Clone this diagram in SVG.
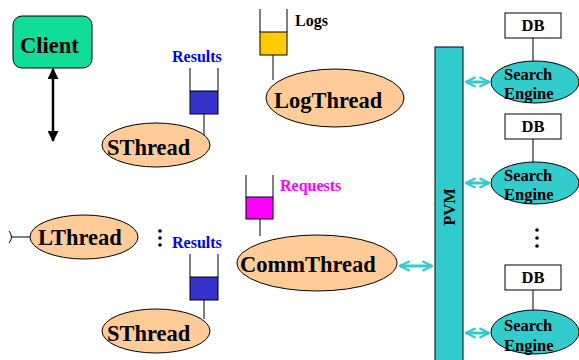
<svg xmlns="http://www.w3.org/2000/svg" width="579" height="360" viewBox="0 0 579 360">
  <style>
    .lbl { font-family: "Liberation Serif", "Times New Roman", serif; font-weight: bold; }
    .big { font-size: 22.5px; fill: #000; }
    .mid { font-size: 16.5px; fill: #000; }
    .small { font-size: 16px; }
    .thread { fill: #ffcc99; stroke: #000; stroke-width: 1; }
    .engine { fill: #33cccc; stroke: #000; stroke-width: 1; }
    .qline { stroke: #000; stroke-width: 1; fill: none; }
    .cyan { stroke: #33cccc; stroke-width: 3; fill: none; marker-start: url(#openStart); marker-end: url(#openEnd); }
  </style>
  <defs>
    <marker id="openEnd" viewBox="0 0 10 10" refX="9" refY="5" markerWidth="4" markerHeight="4" orient="auto" markerUnits="strokeWidth">
      <path d="M1,1 L9,5 L1,9" fill="none" stroke="#33cccc" stroke-width="2"/>
    </marker>
    <marker id="openStart" viewBox="0 0 10 10" refX="1" refY="5" markerWidth="4" markerHeight="4" orient="auto" markerUnits="strokeWidth">
      <path d="M9,1 L1,5 L9,9" fill="none" stroke="#33cccc" stroke-width="2"/>
    </marker>
    <marker id="solidEnd" viewBox="0 0 10 10" refX="9" refY="5" markerWidth="5.5" markerHeight="4.4" orient="auto" markerUnits="strokeWidth">
      <path d="M0,0 L10,5 L0,10 z" fill="#000"/>
    </marker>
    <marker id="solidStart" viewBox="0 0 10 10" refX="1" refY="5" markerWidth="5.5" markerHeight="4.4" orient="auto" markerUnits="strokeWidth">
      <path d="M10,0 L0,5 L10,10 z" fill="#000"/>
    </marker>
  </defs>

  <!-- connectors -->
  <g id="connectors">
    <line x1="53" y1="69" x2="53" y2="141" stroke="#000" stroke-width="2.5" marker-start="url(#solidStart)" marker-end="url(#solidEnd)"/>
    <line x1="204" y1="114" x2="204" y2="136" class="qline"/>
    <line x1="273" y1="55" x2="273" y2="80" class="qline"/>
    <line x1="260" y1="219" x2="260" y2="236" class="qline"/>
    <line x1="204" y1="300" x2="204" y2="319" class="qline"/>
    <line x1="30" y1="237" x2="12" y2="237" class="qline"/>
    <path d="M9,231 Q14,237 9,243" class="qline"/>
    <line x1="533" y1="38" x2="533" y2="62" class="qline"/>
    <line x1="533" y1="139" x2="533" y2="162" class="qline"/>
    <line x1="533" y1="290" x2="533" y2="310" class="qline"/>
    <line x1="466" y1="82" x2="489" y2="82" class="cyan"/>
    <line x1="466" y1="183" x2="489" y2="183" class="cyan"/>
    <line x1="466" y1="333" x2="489" y2="333" class="cyan"/>
    <line x1="400" y1="266" x2="432" y2="266" class="cyan"/>
  </g>

  <g id="client">
    <rect x="13" y="16" width="79" height="52" rx="9" ry="9" fill="#11dd99" stroke="#000"/>
    <text x="20" y="53" class="lbl big">Client</text>
  </g>

  <g id="results-queue-top">
    <text x="172" y="62" class="lbl small" fill="#0000ff">Results</text>
    <polyline points="190,68 190,91" class="qline"/>
    <polyline points="218,68 218,91" class="qline"/>
    <rect x="190" y="91" width="28" height="23" fill="#3333cc" stroke="#000"/>
  </g>

  <g id="sthread-top">
    <ellipse cx="156" cy="145" rx="54" ry="22" class="thread"/>
    <text x="107" y="155" class="lbl big">SThread</text>
  </g>

  <g id="logs-queue">
    <polyline points="260,9 260,32" class="qline"/>
    <polyline points="287,9 287,32" class="qline"/>
    <rect x="260" y="32" width="27" height="23" fill="#ffcc00" stroke="#000"/>
    <text x="295" y="26" class="lbl small" fill="#000">Logs</text>
  </g>

  <g id="logthread">
    <ellipse cx="335" cy="98" rx="69" ry="29" class="thread"/>
    <text x="274" y="108" class="lbl big">LogThread</text>
  </g>

  <g id="requests-queue">
    <polyline points="246,175 246,197" class="qline"/>
    <polyline points="273,175 273,197" class="qline"/>
    <rect x="246" y="197" width="27" height="22" fill="#ff00ff" stroke="#000"/>
    <text x="280" y="191" class="lbl small" fill="#ff00ff">Requests</text>
  </g>

  <g id="commthread">
    <ellipse cx="317" cy="263" rx="80" ry="28" class="thread"/>
    <text x="240" y="272" class="lbl big">CommThread</text>
  </g>

  <g id="lthread">
    <ellipse cx="84" cy="237" rx="54" ry="22" class="thread"/>
    <text x="38" y="245" class="lbl big">LThread</text>
  </g>

  <g id="dots-left" fill="#000">
    <circle cx="160" cy="231" r="1.8"/>
    <circle cx="160" cy="238" r="1.8"/>
    <circle cx="160" cy="245" r="1.8"/>
  </g>

  <g id="results-queue-bottom">
    <text x="172" y="248" class="lbl small" fill="#0000ff">Results</text>
    <polyline points="190,254 190,277" class="qline"/>
    <polyline points="218,254 218,277" class="qline"/>
    <rect x="190" y="277" width="28" height="23" fill="#3333cc" stroke="#000"/>
  </g>

  <g id="sthread-bottom">
    <ellipse cx="156" cy="331" rx="54" ry="22" class="thread"/>
    <text x="107" y="341" class="lbl big">SThread</text>
  </g>

  <g id="pvm">
    <rect x="435" y="47" width="28" height="320" fill="#33cccc" stroke="#000"/>
    <text transform="translate(455,207) rotate(-90)" text-anchor="middle" class="lbl mid">PVM</text>
  </g>

  <g id="db-1">
    <rect x="505" y="13" width="56" height="25" fill="#fff" stroke="#000"/>
    <text x="533" y="31" text-anchor="middle" class="lbl mid">DB</text>
  </g>
  <g id="engine-1">
    <ellipse cx="535" cy="82" rx="44" ry="21" class="engine"/>
    <text x="504" y="80" class="lbl mid">Search</text>
    <text x="504" y="99" class="lbl mid">Engine</text>
  </g>

  <g id="db-2">
    <rect x="505" y="114" width="56" height="25" fill="#fff" stroke="#000"/>
    <text x="533" y="132" text-anchor="middle" class="lbl mid">DB</text>
  </g>
  <g id="engine-2">
    <ellipse cx="535" cy="183" rx="44" ry="21" class="engine"/>
    <text x="504" y="181" class="lbl mid">Search</text>
    <text x="504" y="200" class="lbl mid">Engine</text>
  </g>

  <g id="dots-right" fill="#000">
    <circle cx="537" cy="230" r="1.8"/>
    <circle cx="537" cy="238" r="1.8"/>
    <circle cx="537" cy="246" r="1.8"/>
  </g>

  <g id="db-3">
    <rect x="505" y="265" width="56" height="25" fill="#fff" stroke="#000"/>
    <text x="533" y="283" text-anchor="middle" class="lbl mid">DB</text>
  </g>
  <g id="engine-3">
    <ellipse cx="535" cy="332" rx="44" ry="22" class="engine"/>
    <text x="504" y="331" class="lbl mid">Search</text>
    <text x="504" y="351" class="lbl mid">Engine</text>
  </g>
</svg>
